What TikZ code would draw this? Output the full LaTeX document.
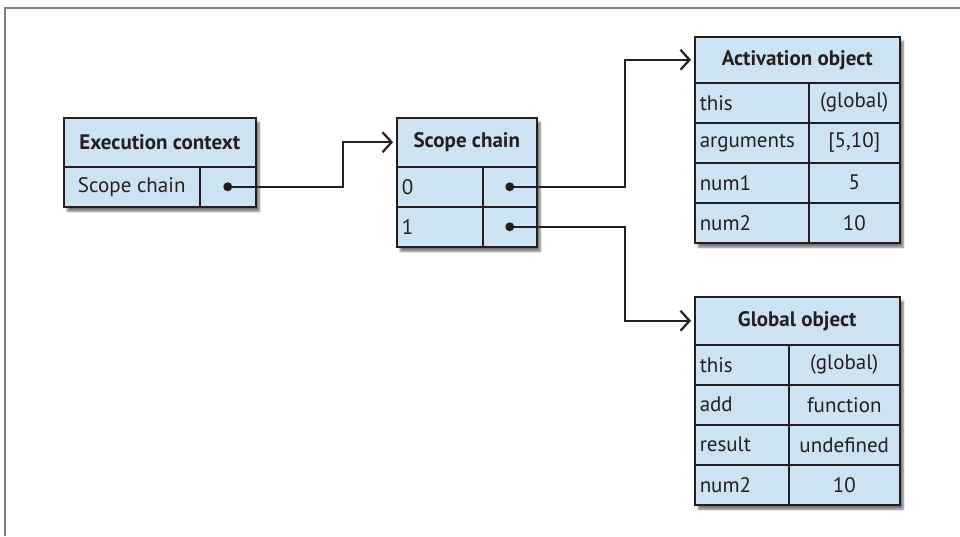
\documentclass[tikz,border=0pt]{standalone}
\usepackage{fontspec}
\setmainfont{PT Sans}
\usetikzlibrary{arrows.meta,shadows.blur}
\definecolor{cellblue}{RGB}{206,227,241}
\definecolor{ink}{RGB}{35,31,32}
\begin{document}
\begin{tikzpicture}[x=1pt, y=-1pt,
        every node/.style = {font=\fontsize{21}{24}\selectfont, text=ink},
        table/.style = {draw=ink, line width=2.4pt, fill=cellblue, anchor=north west, inner sep=0pt,
                        blur shadow={shadow xshift=3pt, shadow yshift=-4pt, shadow blur steps=8, shadow opacity=55}},
        head/.style = {draw=ink, line width=1.5pt, anchor=north west, inner sep=0pt,
                       font=\fontsize{21}{24}\selectfont\bfseries},
        lcell/.style = {draw=ink, line width=1.5pt, anchor=north west, inner ysep=0pt, inner xsep=5pt,
                        minimum height=40pt, text width=#1, align=left},
        rcell/.style = {draw=ink, line width=1.5pt, anchor=north west, inner sep=0pt,
                        minimum height=40pt, minimum width=#1},
        link/.style = {draw=ink, line width=2.2pt, -{Straight Barb[length=9pt,width=20pt]}, shorten >=3pt},
        dot/.style = {fill=ink}
    ]
    \useasboundingbox (0,0) rectangle (960,536);
    \draw[gray, line width=2pt] (5,536) -- (5,8) -- (960,8);

    % execution context
    \node[table, minimum width=192pt, minimum height=89pt] (ec) at (63,117) {};
    \node[head, minimum width=192pt, minimum height=49pt] (ech) at (63,117) {Execution context};
    \node[rcell=136pt] (eck) at (63,166) {Scope chain};
    \node[rcell=56pt] (ecv) at (199,166) {};

    % scope chain
    \node[table, minimum width=140pt, minimum height=129pt] (sc) at (396,117) {};
    \node[head, minimum width=140pt, minimum height=49pt] (sch) at (396,117) {Scope chain};
    \node[lcell=76pt] (sc0k) at (396,166) {0};
    \node[rcell=54pt] (sc0v) at (482,166) {};
    \node[lcell=76pt] (sc1k) at (396,206) {1};
    \node[rcell=54pt] (sc1v) at (482,206) {};

    % activation object
    \node[table, minimum width=205pt, minimum height=206pt] (ao) at (694,36) {};
    \node[head, minimum width=205pt, minimum height=46pt] (aoh) at (694,36) {Activation object};
    \node[lcell=104pt] (ao1k) at (694,82) {this};
    \node[rcell=91pt] (ao1v) at (808,82) {(global)};
    \node[lcell=104pt] (ao2k) at (694,122) {arguments};
    \node[rcell=91pt] (ao2v) at (808,122) {[5,10]};
    \node[lcell=104pt] (ao3k) at (694,162) {num1};
    \node[rcell=91pt] (ao3v) at (808,162) {5};
    \node[lcell=104pt] (ao4k) at (694,202) {num2};
    \node[rcell=91pt] (ao4v) at (808,202) {10};

    % global object
    \node[table, minimum width=205pt, minimum height=208pt] (go) at (694,296) {};
    \node[head, minimum width=205pt, minimum height=48pt] (goh) at (694,296) {Global object};
    \node[lcell=84pt] (go1k) at (694,344) {this};
    \node[rcell=111pt] (go1v) at (788,344) {(global)};
    \node[lcell=84pt] (go2k) at (694,384) {add};
    \node[rcell=111pt] (go2v) at (788,384) {function};
    \node[lcell=84pt] (go3k) at (694,424) {result};
    \node[rcell=111pt] (go3v) at (788,424) {undefined};
    \node[lcell=84pt] (go4k) at (694,464) {num2};
    \node[rcell=111pt] (go4v) at (788,464) {10};

    % links
    \fill[dot] (ecv.center) circle (4.5pt);
    \fill[dot] (sc0v.center) circle (4.5pt);
    \fill[dot] (sc1v.center) circle (4.5pt);
    \draw[link] (ecv.center) -- ++(115,0) |- (sch.west);
    \draw[link] (sc0v.center) -- ++(115,0) |- (aoh.west);
    \draw[link] (sc1v.center) -- ++(115,0) |- (goh.west);
\end{tikzpicture}
\end{document}
